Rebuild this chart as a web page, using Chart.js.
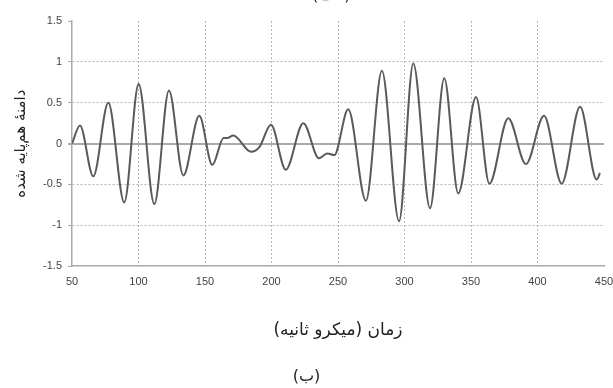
<!DOCTYPE html>
<html>
<head>
<meta charset="utf-8">
<script src="https://cdn.jsdelivr.net/npm/chart.js@4/dist/chart.umd.min.js"></script>
<style>
  body { margin: 0; background: #fff; }
  #wrap { position: relative; width: 613px; height: 388px; overflow: hidden; }
  #topLabel { position: absolute; left: 312px; top: -15px; font: 16px "DejaVu Sans"; color: #222; }
</style>
</head>
<body>
<div id="wrap">
  <canvas id="myChart" width="613" height="388"></canvas>
  <div id="topLabel">(الف)</div>
</div>
<script>
// time (microseconds) and normalised amplitude
const timeUs = [50, 56, 66, 77.3, 89.3, 100.1, 111.9, 122.9, 133.7, 145.7, 155.5, 164, 167, 171.3,
  184.6, 191, 199.6, 210.7, 223.9, 235.7, 242, 247.2, 257.7, 271, 283, 295.9, 306.6,
  319.2, 329.9, 340.4, 353.8, 363.8, 378, 391.3, 404.9, 418.2, 432, 444.5, 447];
const amplitude = [0, 0.22, -0.40, 0.50, -0.72, 0.73, -0.74, 0.65, -0.39, 0.34, -0.26, 0.07, 0.07, 0.10,
  -0.10, -0.04, 0.23, -0.32, 0.25, -0.18, -0.12, -0.14, 0.42, -0.70, 0.89, -0.95, 0.98,
  -0.79, 0.80, -0.61, 0.57, -0.49, 0.31, -0.25, 0.34, -0.49, 0.45, -0.44, -0.36];
const yTicks = [-1.5, -1, -0.5, 0, 0.5, 1, 1.5];
const xTicks = [50, 100, 150, 200, 250, 300, 350, 400, 450];

const ctx = document.getElementById('myChart');
new Chart(ctx, {
  type: 'line',
  data: {
    datasets: [{
      data: timeUs.map((t, i) => ({ x: t, y: amplitude[i] })),
      borderColor: '#5a5a5a',
      borderWidth: 2,
      pointRadius: 0,
      cubicInterpolationMode: 'monotone'
    }]
  },
  options: {
    responsive: false,
    animation: false,
    layout: { padding: { left: 0, right: 0, top: 21, bottom: 0 } },
    plugins: {
      legend: { display: false },
      tooltip: { enabled: false },
      title: {
        display: true,
        position: 'bottom',
        text: '(ب)',
        color: '#222',
        font: { family: 'DejaVu Sans', size: 16, weight: 'normal' },
        padding: { top: 26, bottom: 2 }
      }
    },
    scales: {
      x: {
        type: 'linear',
        min: 50,
        max: 450,
        afterBuildTicks: s => { s.ticks = xTicks.map(v => ({ value: v })); },
        afterFit: s => { s.paddingRight = 9; },
        ticks: {
          color: '#444', font: { family: 'Liberation Sans', size: 11 }, padding: 9, maxRotation: 0,
          callback: v => String(v)
        },
        grid: {
          color: c => (c.tick.value === 50 || c.tick.value === 450) ? 'rgba(0,0,0,0)' : '#b5b5b5',
          tickColor: '#aaa',
          tickLength: 0,
          lineWidth: 1
        },
        border: { color: '#aaa', width: 1.5, dash: [2, 2] },
        title: {
          display: true,
          text: 'زمان (میکرو ثانیه)',
          color: '#222',
          font: { family: 'DejaVu Sans', size: 17 },
          padding: { top: 23, bottom: 0 }
        }
      },
      y: {
        min: -1.5,
        max: 1.5,
        afterBuildTicks: s => { s.ticks = yTicks.map(v => ({ value: v })); },
        afterFit: s => { s.width = 72; },
        ticks: {
          color: '#444', font: { family: 'Liberation Sans', size: 11 }, padding: 6,
          callback: v => String(v)
        },
        grid: {
          color: c => c.tick.value === 0 ? '#aaa' : (Math.abs(c.tick.value) === 1.5 ? 'rgba(0,0,0,0)' : '#b5b5b5'),
          lineWidth: c => c.tick.value === 0 ? 2 : 1,
          tickColor: '#aaa',
          tickLength: 4
        },
        border: { color: '#aaa', width: 1.5, dash: c => c.tick && c.tick.value === 0 ? [] : [2, 2] },
        title: {
          display: true,
          text: 'دامنۀ هم‌پایه شده',
          color: '#222',
          font: { family: 'DejaVu Sans', size: 15 },
          padding: { top: 12, bottom: 0 }
        }
      }
    }
  }
});
</script>
</body>
</html>
